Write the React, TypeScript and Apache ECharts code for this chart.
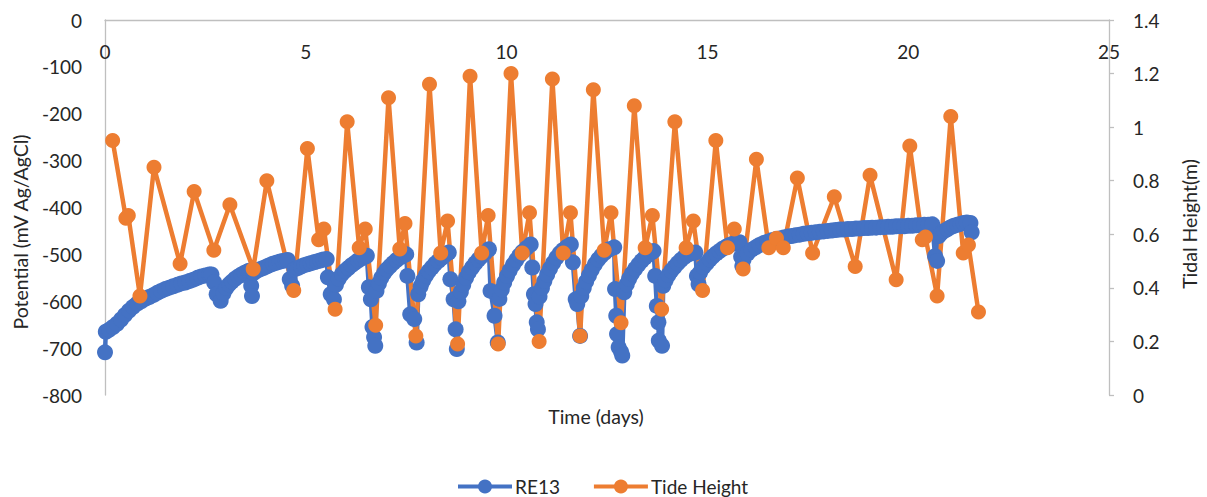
import React, { useEffect, useRef } from "react";
import * as echarts from "echarts";

// RE13 potential readings, [day, mV vs Ag/AgCl]
const re13Start: [number, number][] = [
  [0.0, -709], [0.02, -665], [0.1, -661], [0.2, -655], [0.3, -648], [0.4, -639], [0.5, -629],
  [0.6, -620], [0.7, -612], [0.8, -605], [0.9, -600], [1.0, -595], [1.1, -591], [1.2, -587],
  [1.3, -582], [1.4, -578], [1.5, -574], [1.6, -571], [1.7, -568], [1.8, -565], [1.9, -562],
  [2.0, -560], [2.1, -557], [2.2, -554], [2.3, -550], [2.4, -547], [2.5, -545], [2.6, -543],
  [2.65, -543], [2.72, -560], [2.78, -585], [2.88, -599],
  [2.95, -583], [3.02, -572], [3.09, -564], [3.16, -558], [3.24, -552], [3.32, -547],
  [3.4, -543], [3.48, -539], [3.56, -536], [3.6, -535], [3.64, -567], [3.66, -589],
  [3.7, -540], [3.78, -535], [3.86, -532], [3.94, -529], [4.02, -526], [4.1, -523],
  [4.18, -520], [4.26, -518], [4.34, -516], [4.42, -514], [4.5, -513], [4.55, -512],
  [4.6, -553], [4.66, -567],
  [4.72, -532], [4.8, -529], [4.88, -526], [4.96, -523], [5.04, -521], [5.12, -519],
  [5.2, -517], [5.28, -515], [5.36, -513], [5.44, -511], [5.52, -510],
];

const re13Neap: [number, number][] = [
  [5.55, -549], [5.62, -585], [5.7, -596],
  [5.75, -565], [5.82, -552], [5.9, -542], [5.98, -535], [6.06, -529], [6.14, -523],
  [6.22, -518], [6.3, -513], [6.38, -509], [6.46, -506], [6.52, -503],
  [6.57, -570], [6.62, -596], [6.66, -655], [6.7, -677], [6.73, -695],
  [6.76, -578], [6.82, -562], [6.88, -550], [6.95, -540], [7.02, -532], [7.1, -525],
  [7.18, -518], [7.26, -512], [7.34, -507], [7.42, -503], [7.5, -500],
  [7.53, -546], [7.6, -628], [7.7, -638], [7.76, -688],
  [7.8, -585], [7.86, -568], [7.92, -556], [7.99, -545], [8.06, -536], [8.14, -528],
  [8.22, -520], [8.3, -514], [8.38, -508], [8.46, -502], [8.56, -496],
  [8.6, -553], [8.68, -596], [8.73, -660], [8.76, -702],
  [8.8, -600], [8.86, -580], [8.92, -565], [8.99, -550], [9.06, -538], [9.14, -528],
  [9.22, -519], [9.3, -511], [9.38, -504], [9.46, -497], [9.56, -489],
  [9.6, -578], [9.7, -631], [9.78, -688],
];

const re13Spring: [number, number][] = [
  [9.82, -595], [9.88, -575], [9.94, -560], [10.01, -546], [10.08, -534], [10.16, -522],
  [10.24, -512], [10.32, -502], [10.4, -494], [10.5, -486], [10.6, -479],
  [10.64, -528], [10.68, -585], [10.72, -606], [10.75, -645], [10.78, -660],
  [10.82, -590], [10.88, -572], [10.94, -557], [11.01, -543], [11.08, -530], [11.16, -518],
  [11.24, -507], [11.32, -498], [11.4, -491], [11.5, -484], [11.6, -479],
  [11.65, -517], [11.72, -596], [11.76, -606], [11.83, -674],
  [11.86, -589], [11.92, -572], [11.98, -558], [12.05, -545], [12.12, -533], [12.2, -521],
  [12.28, -511], [12.36, -503], [12.45, -496], [12.56, -489], [12.68, -485],
  [12.7, -574], [12.73, -631], [12.75, -670], [12.79, -698], [12.85, -708], [12.88, -716],
  [12.93, -581], [12.99, -564], [13.05, -552], [13.12, -541], [13.2, -531], [13.28, -522],
  [13.36, -514], [13.44, -507], [13.52, -501], [13.6, -496], [13.66, -493],
  [13.7, -546], [13.74, -610], [13.78, -645], [13.79, -684], [13.87, -695],
  [13.9, -567], [13.96, -555], [14.03, -544], [14.1, -535], [14.18, -527], [14.26, -519],
  [14.34, -512], [14.42, -506], [14.5, -501], [14.6, -498], [14.7, -496],
  [14.74, -546], [14.78, -564],
];

const re13Late: [number, number][] = [
  [14.82, -538], [14.9, -527], [14.98, -519], [15.06, -511], [15.14, -504], [15.22, -498],
  [15.3, -493], [15.38, -488], [15.46, -484], [15.55, -480], [15.65, -477], [15.73, -475],
  [15.8, -474], [15.84, -505], [15.87, -525],
  [15.9, -511], [16.0, -498], [16.1, -490], [16.2, -485], [16.3, -480], [16.4, -476],
  [16.5, -473], [16.6, -470], [16.7, -468], [16.8, -466], [16.9, -464], [17.0, -462],
  [17.1, -461], [17.2, -459], [17.3, -458], [17.4, -456], [17.5, -455], [17.6, -454],
  [17.7, -453], [17.8, -452], [17.9, -451], [18.0, -450], [18.1, -449], [18.2, -448],
  [18.3, -447], [18.4, -447], [18.5, -446], [18.6, -446], [18.7, -445], [18.8, -445],
  [18.9, -444], [19.0, -444], [19.1, -443], [19.2, -443], [19.3, -442], [19.4, -442],
  [19.5, -441], [19.6, -441], [19.7, -440], [19.8, -440], [19.9, -440], [20.0, -439],
  [20.1, -439], [20.2, -438], [20.3, -438], [20.4, -437], [20.5, -437], [20.6, -436],
  [20.67, -504], [20.72, -514],
  [20.76, -461], [20.82, -455], [20.9, -450], [20.98, -446], [21.06, -442], [21.14, -439],
  [21.22, -437], [21.3, -435], [21.38, -433], [21.46, -432], [21.55, -433], [21.58, -453],
];

// Tide heights (m) at each high / low water
const tideDays = [
  0.19, 0.52, 0.58, 0.87, 1.22, 1.87, 2.22, 2.71, 3.11, 3.69, 4.03, 4.7, 5.04, 5.32, 5.45,
  5.73, 6.03, 6.33, 6.48, 6.74, 7.06, 7.34, 7.47, 7.74, 8.08, 8.36, 8.53, 8.78, 9.09, 9.38,
  9.54, 9.79, 10.11, 10.39, 10.57, 10.81, 11.14, 11.41, 11.59, 11.83, 12.16, 12.43, 12.6,
  12.85, 13.18, 13.45, 13.63, 13.86, 14.19, 14.47, 14.65, 14.88, 15.21, 15.5, 15.67, 15.89,
  16.22, 16.53, 16.72, 16.89, 17.24, 17.62, 18.16, 18.68, 19.05, 19.7, 20.04, 20.35, 20.43,
  20.72, 21.06, 21.37, 21.5, 21.75,
];
const tideHeights = [
  0.95, 0.66, 0.67, 0.37, 0.85, 0.49, 0.76, 0.54, 0.71, 0.47, 0.8, 0.39, 0.92, 0.58, 0.62,
  0.32, 1.02, 0.55, 0.62, 0.26, 1.11, 0.545, 0.64, 0.22, 1.16, 0.53, 0.65, 0.19, 1.19, 0.53,
  0.67, 0.19, 1.2, 0.53, 0.68, 0.2, 1.18, 0.53, 0.68, 0.22, 1.14, 0.54, 0.68, 0.27, 1.08,
  0.55, 0.67, 0.32, 1.02, 0.55, 0.65, 0.39, 0.95, 0.55, 0.62, 0.47, 0.88, 0.55, 0.585, 0.55,
  0.81, 0.53, 0.74, 0.48, 0.82, 0.43, 0.93, 0.58, 0.59, 0.37, 1.04, 0.53, 0.56, 0.31,
];

const dayTicks = { min: 0, max: 25, step: 5 };
const potentialTicks = { min: -800, max: 0, step: 100 };
const tideTicks = { min: 0, max: 1.4, step: 0.2 };

const FONT = "Lato";
const TEXT = "#262626";
const AXIS = "#bfbfbf";
const BLUE = "#4472c4";
const ORANGE = "#ed7d31";

export default function App() {
  const ref = useRef<HTMLDivElement>(null);

  useEffect(() => {
    if (!ref.current) return;
    const chart = echarts.init(ref.current, undefined, { renderer: "svg" });
    const re13 = [...re13Start, ...re13Neap, ...re13Spring, ...re13Late];
    const tide = tideDays.map((d, i) => [d, tideHeights[i]]);
    const labelStyle = { color: TEXT, fontFamily: FONT, fontSize: 19 };
    const titleFont = `19.5px ${FONT}`;

    chart.setOption({
      animation: false,
      textStyle: { fontFamily: FONT },
      grid: { left: 105, top: 20, width: 1004, height: 375, containLabel: false },
      xAxis: {
        type: "value",
        position: "top",
        min: dayTicks.min,
        max: dayTicks.max,
        interval: dayTicks.step,
        splitLine: { show: false },
        axisTick: { show: false },
        axisLine: { show: true, lineStyle: { color: AXIS, width: 1.3 } },
        axisLabel: { ...labelStyle, inside: true, margin: 22 },
      },
      yAxis: [
        {
          type: "value",
          min: potentialTicks.min,
          max: potentialTicks.max,
          interval: potentialTicks.step,
          splitLine: { show: false },
          axisTick: { show: false },
          axisLine: { show: true, lineStyle: { color: AXIS, width: 1.3 } },
          axisLabel: { ...labelStyle, margin: 23 },
        },
        {
          type: "value",
          position: "right",
          min: tideTicks.min,
          max: tideTicks.max,
          interval: tideTicks.step,
          splitLine: { show: false },
          axisTick: { show: true, length: 5, lineStyle: { color: AXIS, width: 1.3 } },
          axisLine: { show: true, lineStyle: { color: AXIS, width: 1.3 } },
          axisLabel: { ...labelStyle, margin: 24 },
        },
      ],
      legend: {
        left: 456,
        top: 477,
        padding: 0,
        itemWidth: 54,
        itemHeight: 17.5,
        itemGap: 32,
        lineStyle: { width: 4 },
        textStyle: { ...labelStyle, padding: [0, 0, 0, -2] },
        data: ["RE13", "Tide Height"],
      },
      graphic: [
        {
          type: "text",
          x: 20,
          y: 232,
          rotation: Math.PI / 2,
          style: {
            text: "Potential (mV Ag/AgCl)",
            fill: TEXT,
            font: titleFont,
            align: "center",
            verticalAlign: "middle",
          },
        },
        {
          type: "text",
          x: 1189,
          y: 224,
          rotation: Math.PI / 2,
          style: {
            text: "Tidal Height(m)",
            fill: TEXT,
            font: titleFont,
            align: "center",
            verticalAlign: "middle",
          },
        },
        {
          type: "text",
          x: 596,
          y: 416,
          style: {
            text: "Time (days)",
            fill: TEXT,
            font: titleFont,
            align: "center",
            verticalAlign: "middle",
          },
        },
      ],
      series: [
        {
          name: "RE13",
          type: "line",
          yAxisIndex: 0,
          data: re13,
          symbol: "circle",
          symbolSize: 16,
          lineStyle: { color: BLUE, width: 4.5 },
          itemStyle: { color: BLUE },
        },
        {
          name: "Tide Height",
          type: "line",
          yAxisIndex: 1,
          data: tide,
          symbol: "circle",
          symbolSize: 15,
          lineStyle: { color: ORANGE, width: 4.5 },
          itemStyle: { color: ORANGE },
        },
      ],
    });

    return () => chart.dispose();
  }, []);

  return (
    <div
      ref={ref}
      style={{ position: "absolute", left: 0, top: 0, width: 1207, height: 497, background: "#fff" }}
    />
  );
}
